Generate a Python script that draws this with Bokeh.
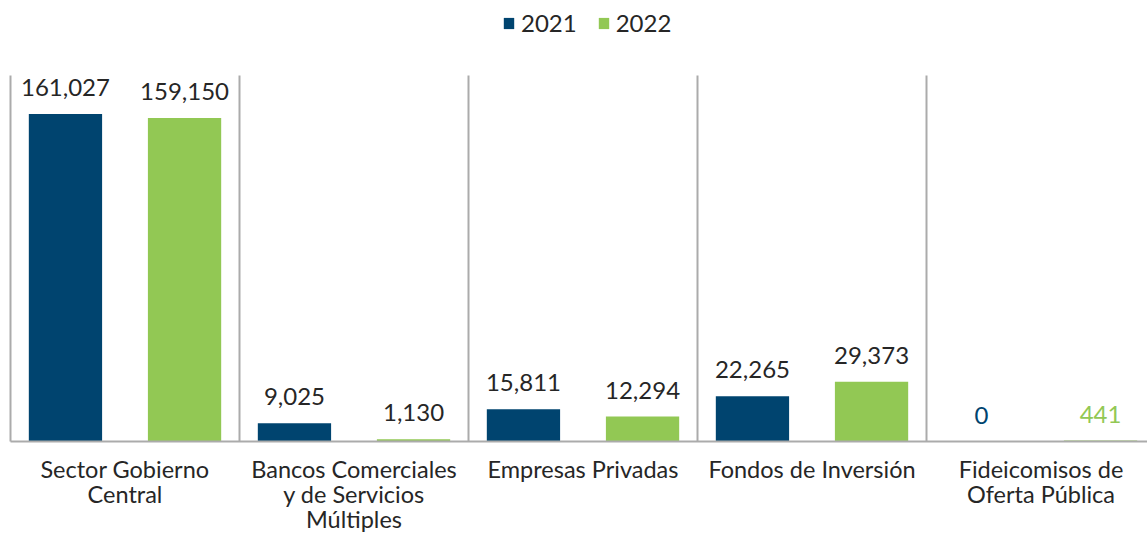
from bokeh.plotting import figure
from bokeh.models import Range1d, Legend, LegendItem, ColumnDataSource
from bokeh.transform import dodge
from bokeh.core.properties import value
from bokeh.embed import file_html
from bokeh.resources import INLINE

categories = ["Sector Gobierno\nCentral",
              "Bancos Comerciales\ny de Servicios\nMúltiples",
              "Empresas Privadas",
              "Fondos de Inversión",
              "Fideicomisos de\nOferta Pública"]
series = ["2021", "2022"]
v2021 = [161027, 9025, 15811, 22265, 0]
v2022 = [159150, 1130, 12294, 29373, 441]
y_max = 180000

colors = ["#00446F", "#92C854"]
TEXT = "#262626"
GRID = "#ABABAB"
FONT = "Lato"

# layout (pixels)
W, H = 1147, 533
plot_left, plot_top, plot_bottom = 10, 75, 441
cat_px = 229.0
px_per_unit = (plot_bottom - plot_top) / y_max

n = len(categories)
xs = [i + 0.5 for i in range(n)]

src = ColumnDataSource(dict(
    x=xs, cat=categories, zero=[0] * n,
    v2021=v2021, v2022=v2022,
    l2021=[f"{v:,}" for v in v2021],
    l2022=[f"{v:,}" for v in v2022],
    c2021=[TEXT if i < n - 1 else colors[0] for i in range(n)],
    c2022=[TEXT if i < n - 1 else colors[1] for i in range(n)],
))

x_rng = Range1d(-plot_left / cat_px, (W - plot_left) / cat_px)
y_rng = Range1d(-(H - plot_bottom) / px_per_unit, y_max + plot_top / px_per_unit)

p = figure(width=W, height=H, output_backend="svg", toolbar_location=None,
           x_range=x_rng, y_range=y_rng,
           min_border=0, x_axis_type=None, y_axis_type=None)
p.outline_line_color = None
p.grid.visible = False

off = 0.26
bw = 0.32
r1 = p.vbar(x=dodge("x", -off), top="v2021", width=bw, source=src,
            fill_color=colors[0], line_color=None)
r2 = p.vbar(x=dodge("x", off), top="v2022", width=bw, source=src,
            fill_color=colors[1], line_color=None)

# category separators and baseline
sep = list(range(n))
p.segment(x0=sep, y0=[0] * n, x1=sep, y1=[y_max] * n,
          line_color=GRID, line_width=2)
p.segment(x0=[0], y0=[0], x1=[x_rng.end], y1=[0], line_color=GRID, line_width=2)

p.text(x=dodge("x", -off), y="v2021", text="l2021", source=src,
       text_align="center", text_baseline="bottom", y_offset=-18,
       text_color="c2021", text_font=value(FONT), text_font_size="24px")
p.text(x=dodge("x", off), y="v2022", text="l2022", source=src,
       text_align="center", text_baseline="bottom", y_offset=-18,
       text_color="c2022", text_font=value(FONT), text_font_size="24px")

p.text(x="x", y="zero", text="cat", source=src,
       text_align="center", text_baseline="top", y_offset=13,
       text_color=TEXT, text_font=value(FONT), text_font_size="23.5px",
       text_line_height=0.9)

legend = Legend(items=[LegendItem(label=series[0], renderers=[r1]),
                       LegendItem(label=series[1], renderers=[r2])],
                orientation="horizontal", location=(502, H - 37),
                glyph_width=13, glyph_height=14, label_standoff=6, spacing=20,
                padding=0, margin=0, border_line_alpha=0,
                background_fill_alpha=0,
                label_text_font=FONT, label_text_font_size="24px",
                label_text_color=TEXT)
p.add_layout(legend, "center")

open("out.html", "w").write(file_html(p, INLINE))
